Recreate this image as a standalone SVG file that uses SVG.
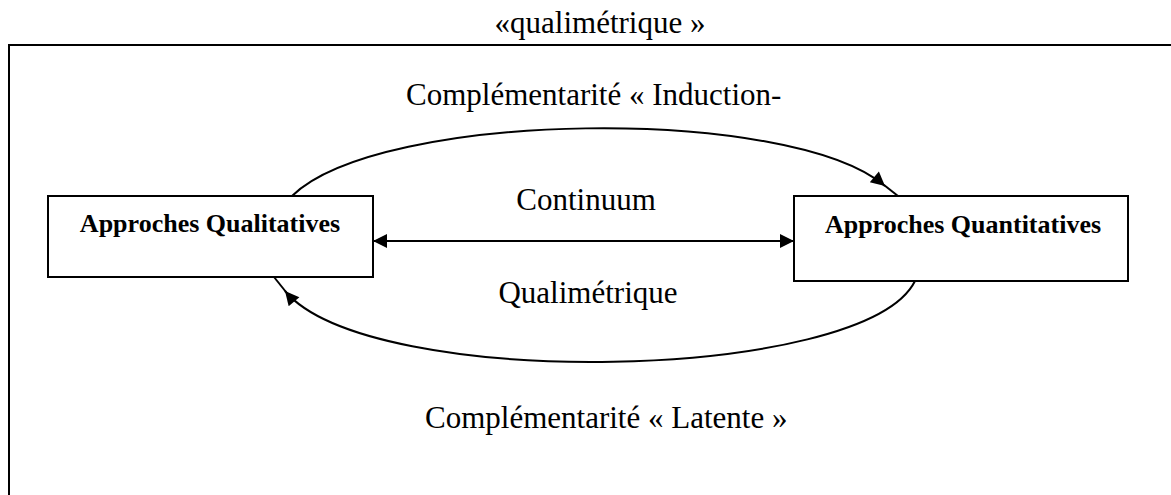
<svg xmlns="http://www.w3.org/2000/svg" width="1171" height="495" viewBox="0 0 1171 495">
<style>
.t{font-family:"Liberation Serif","Times New Roman",serif;fill:#000}
.lbl{font-size:31px}
.b{font-size:26px;font-weight:bold}
.box{fill:#fff;stroke:#000;stroke-width:2}
.c{fill:none;stroke:#000;stroke-width:2}
</style>
<defs>
<marker id="ah" viewBox="0 0 10 10" refX="10" refY="5" markerWidth="16" markerHeight="14" markerUnits="userSpaceOnUse" orient="auto-start-reverse">
<path d="M0,0 L10,5 L0,10 z" fill="#000"/>
</marker>
</defs>
<rect x="0" y="0" width="1171" height="495" fill="#fff"/>
<text class="t lbl" x="600" y="33" text-anchor="middle">«qualimétrique »</text>
<rect id="frame" x="9" y="45" width="1200" height="500" fill="none" stroke="#000" stroke-width="2"/>
<g id="connectors">
<path class="c" d="M292,196 C380,110 790,105 885,186" marker-end="url(#ah)"/>
<path class="c" d="M884,185 L898,196"/>
<line class="c" x1="373" y1="241" x2="794" y2="241" marker-start="url(#ah)" marker-end="url(#ah)"/>
<path class="c" d="M915,281 C865,382 370,392 285,291" marker-end="url(#ah)"/>
<path class="c" d="M286,292 L274,277"/>
</g>
<g id="qual">
<rect class="box" x="48" y="196" width="325" height="81"/>
<text class="t b" x="210" y="232" text-anchor="middle">Approches Qualitatives</text>
</g>
<g id="quant">
<rect class="box" x="794" y="196" width="334" height="85"/>
<text class="t b" x="963" y="233" text-anchor="middle">Approches Quantitatives</text>
</g>
<text class="t lbl" x="406" y="105">Complémentarité « Induction-</text>
<text class="t lbl" x="586" y="210" text-anchor="middle">Continuum</text>
<text class="t lbl" x="588" y="303" text-anchor="middle">Qualimétrique</text>
<text class="t lbl" x="425" y="428">Complémentarité « Latente »</text>
</svg>
